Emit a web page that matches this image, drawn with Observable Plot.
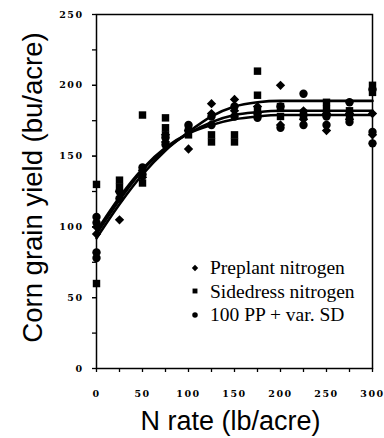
<!DOCTYPE html>
<html><head><meta charset="utf-8">
<script src="https://cdn.jsdelivr.net/npm/d3@7"></script>
<script src="https://cdn.jsdelivr.net/npm/@observablehq/plot@0.6"></script>
<style>
body{margin:0;background:#fff;}
#chart{position:relative;width:384px;height:438px;}
g[aria-label="x-axis tick label"] text, g[aria-label="y-axis tick label"] text{letter-spacing:1.5px;}
g[aria-label="x-title"] text{letter-spacing:2.2px;}
g[aria-label="y-title"] text{letter-spacing:0.6px;}
#legend{position:absolute;left:190px;top:256px;font-family:"Liberation Serif",serif;font-size:19.5px;line-height:23.5px;color:#000;}
#legend div{display:flex;align-items:center;white-space:nowrap;}
#legend svg{margin-right:10px;}
</style></head><body><div id="chart"></div>
<script>
const nRates = [0, 25, 50, 75, 100, 125, 150, 175, 200, 225, 250, 275, 300];
const seriesNames = ["Preplant nitrogen", "Sidedress nitrogen", "100 PP + var. SD"];
const preplantYields = [[95,100],[105,125],[140,135],[160,165],[155,168],[187,180],[190,182],[185,178],[200,172],[182,176],[168,180],[176,180],[165,180]];
const sidedressYields = [[130,60],[133,128],[179,131],[177,170,165],[170,165],[165,160],[165,160],[210,193,182],[185,178],[180,178],[188,183],[182,178],[195,200]];
const ppSdYields = [[107,103,82,78],[125,120],[142,137],[163,158],[168,172],[178,172],[185,178],[180,177],[185,170],[194,172],[178,172],[188,174],[197,167,159]];
const curvePreplant = [92,116,137,154,167,178,185,188,189,189,189,189,189];
const curveSidedress = [95,119,140,155,166,174,179,181,182,182,182,182,182];
const curvePpSd = [97,121,141,156,166,172,176,178,179,179,179,179,179];
const yTicks = [0, 50, 100, 150, 200, 250];
const xTicks = [0, 50, 100, 150, 200, 250, 300];
const yTitle = "Corn grain yield (bu/acre)";
const xTitle = "N rate (lb/acre)";

const symbols = ["diamond2", "square", "circle"];
const allYields = [preplantYields, sidedressYields, ppSdYields];
const points = [];
allYields.forEach((arr, s) => arr.forEach((ys, i) => ys.forEach(y => points.push({x: nRates[i], y, s: seriesNames[s]}))));
const curves = [];
[curvePreplant, curveSidedress, curvePpSd].forEach((c, s) => c.forEach((y, i) => curves.push({x: nRates[i], y, s: seriesNames[s]})));

const minorX = d3.range(0, 301, 25);
const minorY = d3.range(0, 251, 25);
const tickFont = {fontFamily: "DejaVu Serif", fontWeight: "bold", fontSize: 9.5};

const chart = Plot.plot({
  width: 384, height: 438,
  marginLeft: 96, marginRight: 12, marginTop: 14, marginBottom: 70,
  style: {background: "#fff", color: "#000"},
  x: {domain: [0, 300], label: null},
  y: {domain: [0, 250], label: null},
  symbol: {domain: seriesNames, range: symbols},
  marks: [
    Plot.frame({stroke: "#000", strokeWidth: 1.5}),
    Plot.axisY(minorY, {tickSize: 4, text: null, label: null, strokeWidth: 1.3}),
    Plot.axisY(yTicks, {tickSize: 4, tickPadding: 9, label: null, ...tickFont}),
    Plot.axisX(minorX, {tickSize: 4, text: null, label: null, strokeWidth: 1.3}),
    Plot.axisX(xTicks, {tickSize: 4, tickPadding: 18, label: null, ...tickFont}),
    Plot.line(curves, {x: "x", y: "y", z: "s", stroke: "#000", strokeWidth: 2.6, curve: "monotone-x"}),
    Plot.dot(points, {x: "x", y: "y", symbol: "s", fill: "#000", stroke: null, r: 4.2}),
    Plot.text([yTitle], {ariaLabel: "y-title", frameAnchor: "left", textAnchor: "middle", rotate: -90, dx: -63, dy: -4, fontSize: 27.5, fontFamily: "Liberation Sans", text: d => d}),
    Plot.text([xTitle], {ariaLabel: "x-title", frameAnchor: "bottom", textAnchor: "middle", dy: 53, dx: -4, fontSize: 27, fontFamily: "Liberation Sans", lineAnchor: "middle", text: d => d})
  ]
});
document.getElementById("chart").appendChild(chart);

const legend = document.createElement("div");
legend.id = "legend";
const symPaths = [d3.symbol(d3.symbolDiamond2, 26)(), d3.symbol(d3.symbolSquare, 24)(), d3.symbol(d3.symbolCircle, 24)()];
seriesNames.forEach((name, i) => {
  const row = document.createElement("div");
  row.innerHTML = `<svg width="10" height="10" viewBox="-5 -5 10 10"><path d="${symPaths[i]}" fill="#000"/></svg><span>${name}</span>`;
  legend.appendChild(row);
});
document.getElementById("chart").appendChild(legend);
</script>
</body></html>
